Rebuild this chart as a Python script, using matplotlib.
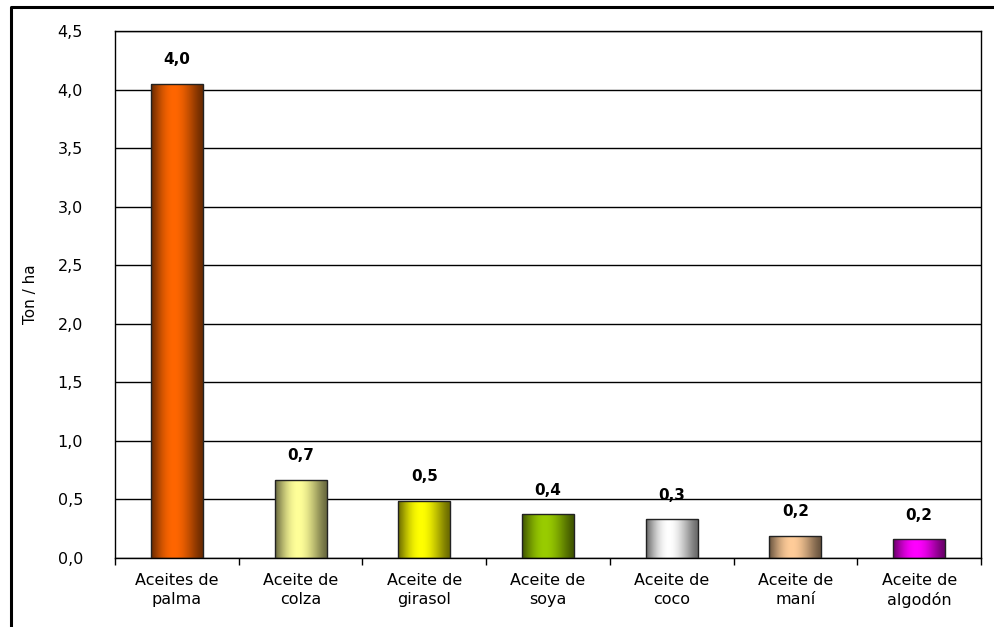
import matplotlib.pyplot as plt
import matplotlib.colors as mcolors
import numpy as np
from matplotlib.lines import Line2D

categories = [
    "Aceites de\npalma",
    "Aceite de\ncolza",
    "Aceite de\ngirasol",
    "Aceite de\nsoya",
    "Aceite de\ncoco",
    "Aceite de\nmaní",
    "Aceite de\nalgodón",
]
values = [4.05, 0.67, 0.49, 0.375, 0.33, 0.19, 0.16]
value_labels = ["4,0", "0,7", "0,5", "0,4", "0,3", "0,2", "0,2"]
bar_colors = ["#FF6600", "#FFFF99", "#FFFF00", "#99CC00", "#FFFFFF", "#FFCC99", "#FF00FF"]
y_ticks = [0.0, 0.5, 1.0, 1.5, 2.0, 2.5, 3.0, 3.5, 4.0, 4.5]

plt.rcParams["font.family"] = ["DejaVu Sans"]

fig = plt.figure(figsize=(9.94, 6.27), dpi=100)
ax = fig.add_axes([115 / 994, 69 / 627, 866 / 994, 527 / 627])

# cylinder-like horizontal shading, highlight a bit left of centre
t = np.linspace(0, 1, 80)
tw = t ** 0.85
shade = 0.42 + 0.58 * np.sin(np.pi * tw) ** 1.3

x = np.arange(len(categories))
width = 0.42
for i, (v, c) in enumerate(zip(values, bar_colors)):
    rgb = np.array(mcolors.to_rgb(c))
    row = np.clip(shade[:, None] * rgb[None, :], 0, 1)
    img = row[None, :, :]
    bar = ax.bar(x[i], v, width=width, facecolor="none", edgecolor="#222222",
                 linewidth=1.0, zorder=3)[0]
    im = ax.imshow(img, extent=(x[i] - width / 2, x[i] + width / 2, 0, v),
                   aspect="auto", zorder=2, interpolation="bilinear")
    im.set_clip_path(bar)
    ax.annotate(value_labels[i], (x[i], v), xytext=(0, 24), textcoords="offset pixels",
                ha="center", va="center", fontsize=11, fontweight="bold", zorder=4)

ax.set_xlim(-0.5, len(categories) - 0.5)
ax.set_ylim(0, 4.5)
ax.set_yticks(y_ticks)
ax.set_yticklabels([f"{v:.1f}".replace(".", ",") for v in y_ticks], fontsize=11.5)
ax.tick_params(axis="y", length=0, pad=23)
ax.yaxis.grid(True, color="black", linewidth=1.0)
ax.set_axisbelow(True)

ax.set_xticks(x)
ax.set_xticklabels(categories, fontsize=11.5, linespacing=1.3)
ax.set_xticks(np.arange(len(categories) + 1) - 0.5, minor=True)
ax.tick_params(axis="x", which="major", length=0, pad=11)
ax.tick_params(axis="x", which="minor", length=5, width=1, direction="out")

for s in ax.spines.values():
    s.set_linewidth(1.0)
    s.set_color("black")

ax.set_ylabel("Ton / ha", fontsize=11, labelpad=14)

# outer chart border (top and left)
fig.add_artist(Line2D([11 / 994, 11 / 994, 1.0], [0.0, 1 - 7 / 627, 1 - 7 / 627],
                      transform=fig.transFigure, color="black", linewidth=2.2))

fig.savefig("out.png", dpi=100)
